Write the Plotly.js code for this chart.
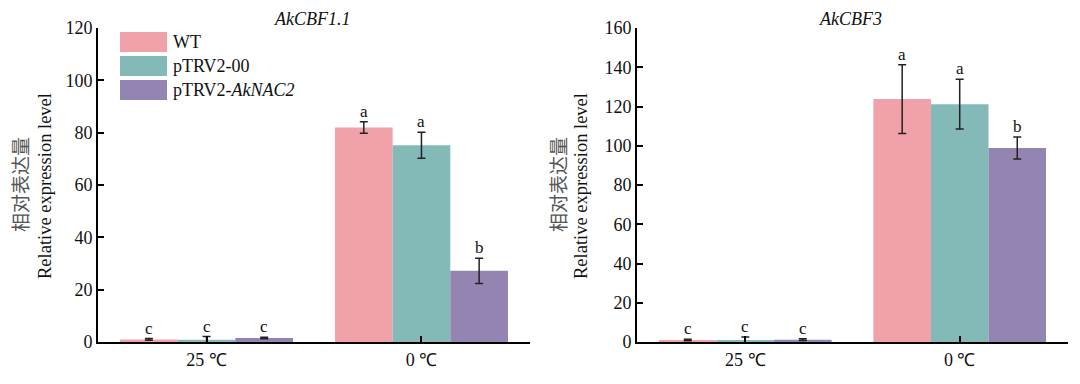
<!DOCTYPE html>
<html>
<head>
<meta charset="utf-8">
<script src="https://cdn.plot.ly/plotly-3.0.1.min.js"></script>
<style>html,body{margin:0;padding:0;background:#fff;}#chart{width:1080px;height:384px;}</style>
</head>
<body>
<div id="chart"></div>
<script>
// ---------- data ----------
const categories = ["25 ℃", "0 ℃"];
const seriesNames = ["WT", "pTRV2-00", "pTRV2-<i>AkNAC2</i>"];
const seriesColors = ["#F0A1AA", "#83BAB8", "#9384B2"];

// AkCBF1.1
const cbf11_WT = [1.0, 82.0];
const cbf11_WT_err = [0.3, 2.2];
const cbf11_TRV = [0.9, 75.2];
const cbf11_TRV_err = [1.2, 5.0];
const cbf11_NAC = [1.5, 27.2];
const cbf11_NAC_err = [0.3, 4.8];
const cbf11_letters = [["c", "a"], ["c", "a"], ["c", "b"]];

// AkCBF3
const cbf3_WT = [1.0, 123.8];
const cbf3_WT_err = [0.4, 17.5];
const cbf3_TRV = [1.0, 121.2];
const cbf3_TRV_err = [1.6, 12.7];
const cbf3_NAC = [1.2, 98.8];
const cbf3_NAC_err = [0.4, 5.6];
const cbf3_letters = [["c", "a"], ["c", "a"], ["c", "b"]];

const panelTitles = ["AkCBF1.1", "AkCBF3"];
const yTitleCN = "相对表达量";
const yTitleEN = "Relative expression level";

// ---------- layout helpers ----------
const W = 1080, H = 384;
const serif = "Liberation Serif";
const bargap = 0.195;
const xPos = categories.map((c, i) => i);
const px = v => v / W;
const py = v => 1 - v / H;

const panels = [
  {vals: [cbf11_WT, cbf11_TRV, cbf11_NAC], errs: [cbf11_WT_err, cbf11_TRV_err, cbf11_NAC_err], letters: cbf11_letters, xa: "x", ya: "y", range: [0, 120]},
  {vals: [cbf3_WT, cbf3_TRV, cbf3_NAC], errs: [cbf3_WT_err, cbf3_TRV_err, cbf3_NAC_err], letters: cbf3_letters, xa: "x2", ya: "y2", range: [0, 160]}
];

const traces = [];
const annotations = [];
const barW = (1 - bargap) / 3;
panels.forEach((p, pi) => {
  p.vals.forEach((v, si) => {
    traces.push({
      type: "bar", x: xPos, y: v, name: seriesNames[si],
      xaxis: p.xa, yaxis: p.ya, showlegend: false,
      marker: {color: seriesColors[si], line: {width: 0}},
      error_y: {type: "data", array: p.errs[si], visible: true, color: "#222", thickness: 1.5, width: 4},
      hoverinfo: "skip"
    });
    v.forEach((val, ci) => {
      annotations.push({
        xref: p.xa, yref: p.ya, x: ci + (si - 1) * barW, y: val + p.errs[si][ci],
        text: p.letters[si][ci], showarrow: false, yanchor: "bottom", yshift: -1,
        font: {family: serif, size: 17, color: "#111"}
      });
    });
  });
});

const dom1 = [98 / W, 530 / W];
const dom2 = [637 / W, 1068 / W];
const ydom = [42 / H, 1 - 28 / H];

// panel titles
[[dom1, panelTitles[0]], [dom2, panelTitles[1]]].forEach(([d, t]) => {
  annotations.push({xref: "paper", yref: "paper", x: (d[0] + d[1]) / 2 - 2 / W, y: py(19), text: "<i>" + t + "</i>",
    showarrow: false, xanchor: "center", yanchor: "middle", font: {family: serif, size: 18, color: "#111"}});
});
// y axis titles
[[20, 45], [558, 581]].forEach(([cx, ex]) => {
  annotations.push({xref: "paper", yref: "paper", x: px(cx), y: py(185), text: yTitleCN, textangle: -90,
    showarrow: false, xanchor: "center", yanchor: "middle", font: {family: "Noto Sans CJK SC", size: 19, color: "#555"}});
  annotations.push({xref: "paper", yref: "paper", x: px(ex), y: py(186), text: yTitleEN, textangle: -90,
    showarrow: false, xanchor: "center", yanchor: "middle", font: {family: serif, size: 18.5, color: "#111"}});
});

// legend (custom)
const shapes = [];
const legRows = [42, 66, 90];
seriesNames.forEach((n, i) => {
  shapes.push({type: "rect", xref: "paper", yref: "paper", x0: px(120), x1: px(167), y0: py(legRows[i] - 10), y1: py(legRows[i] + 10),
    fillcolor: seriesColors[i], line: {width: 0}});
  annotations.push({xref: "paper", yref: "paper", x: px(171), y: py(legRows[i]), text: n, showarrow: false,
    xanchor: "left", yanchor: "middle", font: {family: serif, size: 18, color: "#111"}});
});

const xaxisBase = {
  tickvals: xPos, ticktext: categories, range: [-0.505, 1.505],
  showline: true, linecolor: "#000", linewidth: 2, ticks: "inside", ticklen: 6, tickwidth: 2, tickcolor: "#000",
  showgrid: false, zeroline: false, tickfont: {family: serif, size: 18, color: "#111"}, fixedrange: true
};
const yaxisBase = {
  domain: ydom, showline: true, linecolor: "#000", linewidth: 2, ticks: "inside", ticklen: 6, tickwidth: 2, tickcolor: "#000",
  showgrid: false, zeroline: false, dtick: 20, tickfont: {family: serif, size: 18, color: "#111"}, fixedrange: true
};

const layout = {
  width: W, height: H, margin: {l: 0, r: 0, t: 0, b: 0},
  font: {family: serif},
  paper_bgcolor: "#fff", plot_bgcolor: "#fff",
  barmode: "group", bargap: bargap, bargroupgap: 0, showlegend: false,
  xaxis: Object.assign({}, xaxisBase, {domain: dom1, anchor: "y"}),
  xaxis2: Object.assign({}, xaxisBase, {domain: dom2, anchor: "y2"}),
  yaxis: Object.assign({}, yaxisBase, {range: panels[0].range, anchor: "x"}),
  yaxis2: Object.assign({}, yaxisBase, {range: panels[1].range, anchor: "x2"}),
  annotations: annotations, shapes: shapes
};

Plotly.newPlot("chart", traces, layout, {displayModeBar: false, staticPlot: true});
</script>
</body>
</html>
